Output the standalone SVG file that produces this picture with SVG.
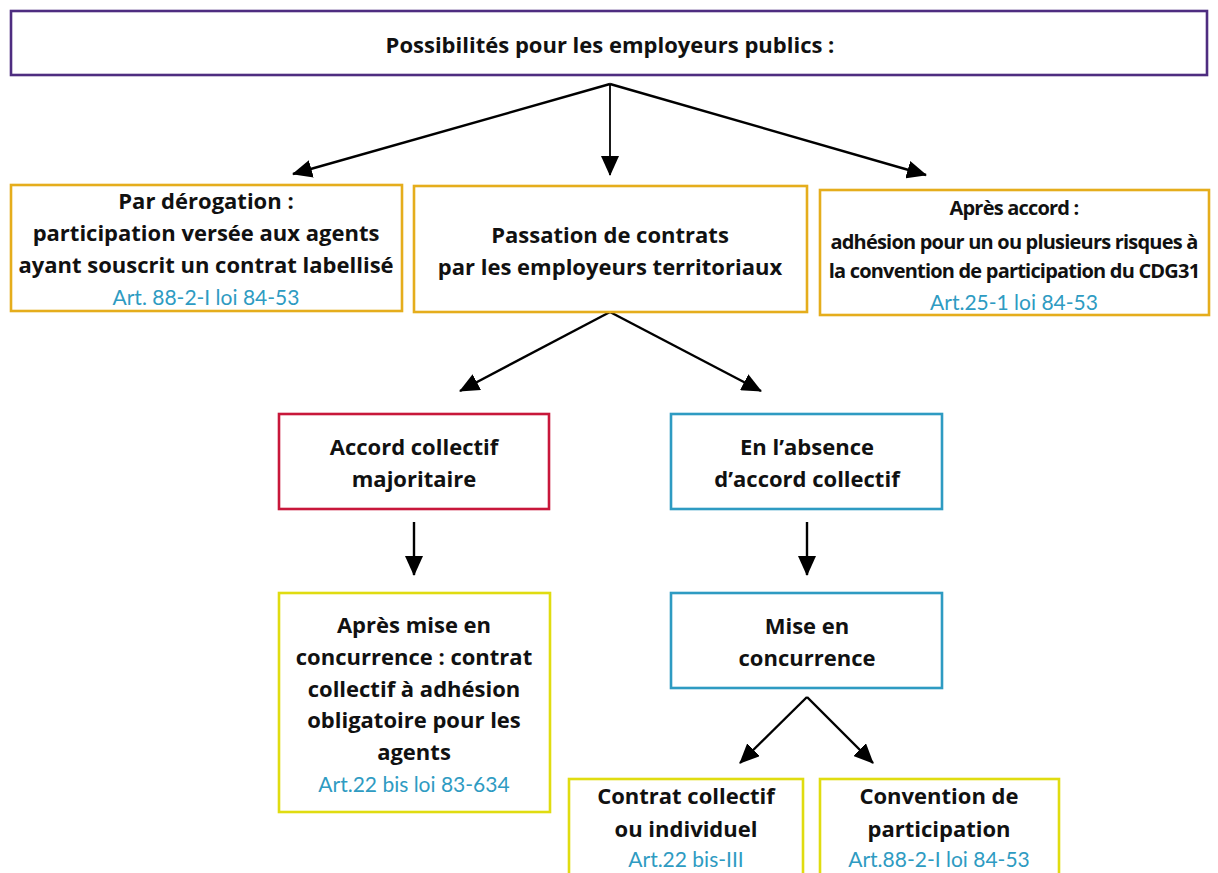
<svg xmlns="http://www.w3.org/2000/svg" width="1218" height="873" viewBox="0 0 1218 873">
<style>
.box{fill:#fff;stroke-width:2.6}
.purple{stroke:#4e2d80}
.gold{stroke:#e5ad1c}
.red{stroke:#c8173a}
.blue{stroke:#2e9bc2}
.yellow{stroke:#e0dc10}
.t{font-family:"Open Sans","Noto Sans","Liberation Sans",sans-serif;font-weight:bold;font-size:22px;fill:#111;text-anchor:middle}
.n{font-size:20px;letter-spacing:-0.8px}
.a{font-family:Lato,"Open Sans","Liberation Sans",sans-serif;font-size:21px;fill:#2e9bc2;text-anchor:middle}
.c{fill:none;stroke:#000;stroke-width:2.4}
</style>
<defs>
<marker id="ah" markerUnits="userSpaceOnUse" markerWidth="20" markerHeight="18" viewBox="0 0 20 18" refX="19" refY="9" orient="auto">
<path d="M0,0 L20,9 L0,18 Z" fill="#000"/>
</marker>
</defs>
<rect width="1218" height="873" fill="#fff"/>
<g id="connectors">
<line class="c" x1="610" y1="84" x2="293" y2="174" marker-end="url(#ah)"/>
<line class="c" x1="610" y1="84" x2="610" y2="175" marker-end="url(#ah)" style="stroke-width:1.8"/>
<line class="c" x1="610" y1="84" x2="926" y2="175" marker-end="url(#ah)"/>
<line class="c" x1="610" y1="312" x2="460" y2="391" marker-end="url(#ah)"/>
<line class="c" x1="610" y1="312" x2="761" y2="391" marker-end="url(#ah)"/>
<line class="c" x1="414" y1="522" x2="414" y2="575" marker-end="url(#ah)"/>
<line class="c" x1="807" y1="522" x2="807" y2="575" marker-end="url(#ah)"/>
<line class="c" x1="807" y1="697" x2="740" y2="763" marker-end="url(#ah)"/>
<line class="c" x1="807" y1="697" x2="873" y2="763" marker-end="url(#ah)"/>
</g>
<g id="n-top">
<rect class="box purple" x="11" y="11" width="1196" height="64"/>
<text class="t" x="610" y="53">Possibilités pour les employeurs publics :</text>
</g>
<g id="n-derogation">
<rect class="box gold" x="11" y="185" width="391" height="126"/>
<text class="t" x="206" y="209">Par dérogation :</text>
<text class="t" x="206" y="241">participation versée aux agents</text>
<text class="t" x="206" y="273">ayant souscrit un contrat labellisé</text>
<text class="a" x="206" y="305">Art. 88-2-I loi 84-53</text>
</g>
<g id="n-passation">
<rect class="box gold" x="414" y="186" width="393" height="126"/>
<text class="t" x="610" y="243">Passation de contrats</text>
<text class="t" x="610" y="275">par les employeurs territoriaux</text>
</g>
<g id="n-apres-accord">
<rect class="box gold" x="820" y="190" width="389" height="125"/>
<text class="t n" x="1014" y="215">Après accord :</text>
<text class="t n" x="1014" y="249">adhésion pour un ou plusieurs risques à</text>
<text class="t n" x="1014" y="278">la convention de participation du CDG31</text>
<text class="a" x="1014" y="310">Art.25-1 loi 84-53</text>
</g>
<g id="n-accord-collectif">
<rect class="box red" x="279" y="414" width="270" height="95"/>
<text class="t" x="414" y="455">Accord collectif</text>
<text class="t" x="414" y="487">majoritaire</text>
</g>
<g id="n-absence">
<rect class="box blue" x="671" y="414" width="271" height="95"/>
<text class="t" x="807" y="455">En l’absence</text>
<text class="t" x="807" y="487">d’accord collectif</text>
</g>
<g id="n-apres-mise">
<rect class="box yellow" x="279" y="593" width="271" height="219"/>
<text class="t" x="414" y="633">Après mise en</text>
<text class="t" x="414" y="665">concurrence : contrat</text>
<text class="t" x="414" y="697">collectif à adhésion</text>
<text class="t" x="414" y="728">obligatoire pour les</text>
<text class="t" x="414" y="760">agents</text>
<text class="a" x="414" y="792">Art.22 bis loi 83-634</text>
</g>
<g id="n-mise">
<rect class="box blue" x="671" y="593" width="271" height="95"/>
<text class="t" x="807" y="634">Mise en</text>
<text class="t" x="807" y="666">concurrence</text>
</g>
<g id="n-contrat">
<rect class="box yellow" x="569" y="779" width="234" height="110"/>
<text class="t" x="686" y="804">Contrat collectif</text>
<text class="t" x="686" y="837">ou individuel</text>
<text class="a" x="686" y="867">Art.22 bis-III</text>
</g>
<g id="n-convention">
<rect class="box yellow" x="820" y="779" width="239" height="110"/>
<text class="t" x="939" y="804">Convention de</text>
<text class="t" x="939" y="837">participation</text>
<text class="a" x="939" y="867">Art.88-2-I loi 84-53</text>
</g>
</svg>
